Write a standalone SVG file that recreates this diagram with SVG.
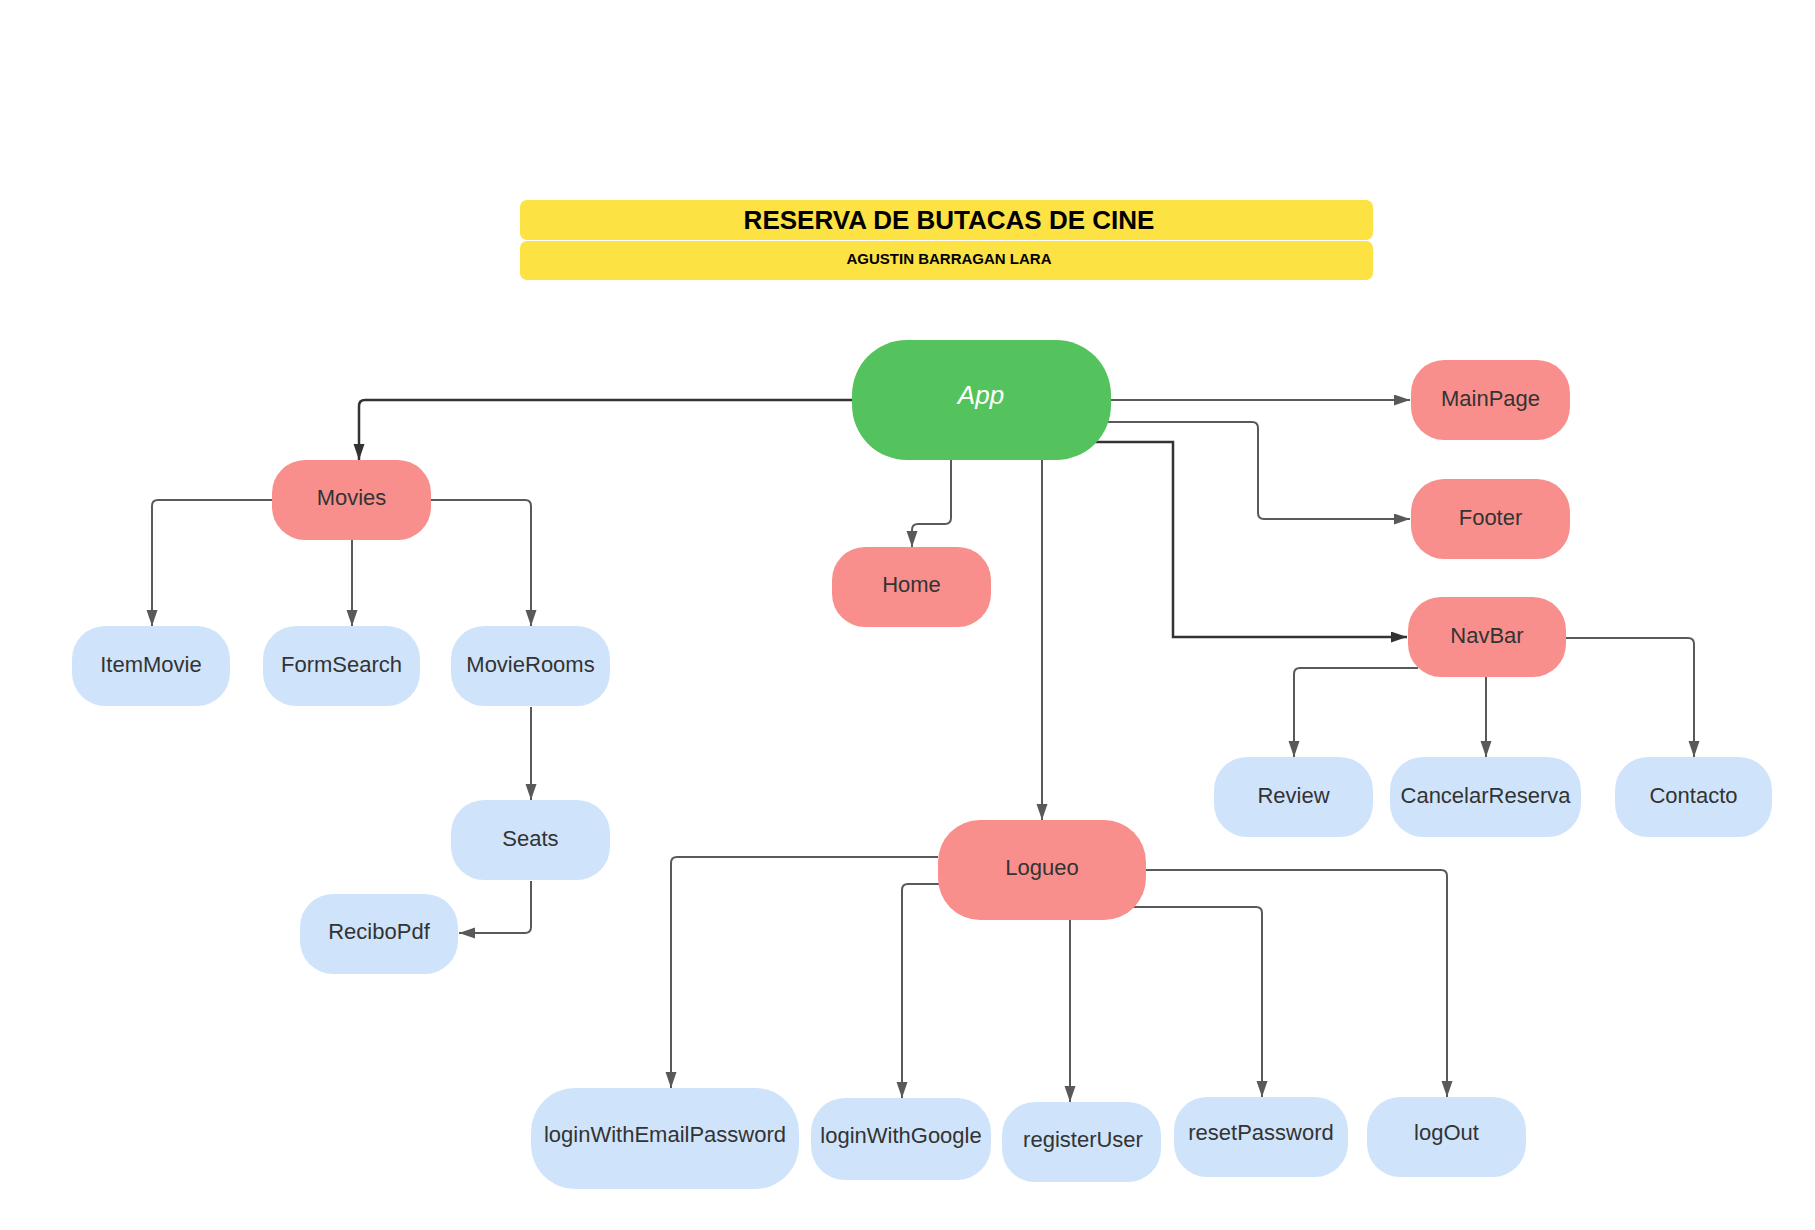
<svg xmlns="http://www.w3.org/2000/svg" width="1815" height="1230" viewBox="0 0 1815 1230">
<defs>
<style>
.red{fill:#f98f8d}
.blue{fill:#cfe4fb}
.lbl{font-family:"Liberation Sans",Arial,sans-serif;font-size:22px;fill:#333333;text-anchor:middle}
.c{fill:none;stroke:#595959;stroke-width:2}
.cd{fill:none;stroke:#333333;stroke-width:2.5}
</style>
<marker id="ah" markerUnits="userSpaceOnUse" markerWidth="17" markerHeight="12" refX="16" refY="5.5" orient="auto">
<path d="M0,0 L16,5.5 L0,11 z" fill="#595959"/>
</marker>
<marker id="ahd" markerUnits="userSpaceOnUse" markerWidth="17" markerHeight="12" refX="16" refY="5.5" orient="auto">
<path d="M0,0 L16,5.5 L0,11 z" fill="#333333"/>
</marker>
</defs>
<rect width="1815" height="1230" fill="#ffffff"/>
<g id="title">
<rect x="520" y="200" width="853" height="40" rx="7" fill="#fde244"/>
<rect x="520" y="241" width="853" height="39" rx="7" fill="#fde244"/>
<text x="949" y="229" font-family="Liberation Sans,Arial,sans-serif" font-size="26" font-weight="bold" fill="#000" text-anchor="middle">RESERVA DE BUTACAS DE CINE</text>
<text x="949" y="264" font-family="Liberation Sans,Arial,sans-serif" font-size="15" font-weight="bold" fill="#000" text-anchor="middle">AGUSTIN BARRAGAN LARA</text>
</g>
<g id="connectors">
<path class="cd" marker-end="url(#ahd)" d="M852,400 L365,400 Q359,400 359,406 L359,460"/>
<path class="c" marker-end="url(#ah)" d="M1111,400 L1410,400"/>
<path class="c" marker-end="url(#ah)" d="M1105,422 L1252,422 Q1258,422 1258,428 L1258,513 Q1258,519 1264,519 L1410,519"/>
<path class="cd" marker-end="url(#ahd)" d="M1095,442 L1173,442 L1173,637 L1407,637"/>
<path class="c" marker-end="url(#ah)" d="M951,460 L951,518 Q951,524 945,524 L918,524 Q912,524 912,530 L912,547"/>
<path class="c" marker-end="url(#ah)" d="M1042,460 L1042,820"/>
<path class="c" marker-end="url(#ah)" d="M272,500 L158,500 Q152,500 152,506 L152,626"/>
<path class="c" marker-end="url(#ah)" d="M352,540 L352,626"/>
<path class="c" marker-end="url(#ah)" d="M431,500 L525,500 Q531,500 531,506 L531,626"/>
<path class="c" marker-end="url(#ah)" d="M531,707 L531,800"/>
<path class="c" marker-end="url(#ah)" d="M531,881 L531,927 Q531,933 525,933 L459,933"/>
<path class="c" marker-end="url(#ah)" d="M1418,668 L1300,668 Q1294,668 1294,674 L1294,757"/>
<path class="c" marker-end="url(#ah)" d="M1486,677 L1486,757"/>
<path class="c" marker-end="url(#ah)" d="M1566,638 L1688,638 Q1694,638 1694,644 L1694,757"/>
<path class="c" marker-end="url(#ah)" d="M938,857 L677,857 Q671,857 671,863 L671,1088"/>
<path class="c" marker-end="url(#ah)" d="M940,884 L908,884 Q902,884 902,890 L902,1098"/>
<path class="c" marker-end="url(#ah)" d="M1070,920 L1070,1102"/>
<path class="c" marker-end="url(#ah)" d="M1132,907 L1256,907 Q1262,907 1262,913 L1262,1097"/>
<path class="c" marker-end="url(#ah)" d="M1146,870 L1441,870 Q1447,870 1447,876 L1447,1097"/>
</g>
<g id="app">
<rect x="852" y="340" width="259" height="120" rx="55" fill="#55c35d"/>
<text x="981" y="404" font-family="Liberation Sans,Arial,sans-serif" font-size="26" font-style="italic" fill="#ffffff" text-anchor="middle">App</text>
</g>
<g id="mainpage"><rect class="red" x="1411" y="360" width="159" height="80" rx="33"/><text class="lbl" x="1490.5" y="406">MainPage</text></g>
<g id="footer"><rect class="red" x="1411" y="479" width="159" height="80" rx="33"/><text class="lbl" x="1490.5" y="525">Footer</text></g>
<g id="navbar"><rect class="red" x="1408" y="597" width="158" height="80" rx="33"/><text class="lbl" x="1487" y="643">NavBar</text></g>
<g id="home"><rect class="red" x="832" y="547" width="159" height="80" rx="33"/><text class="lbl" x="911.5" y="592">Home</text></g>
<g id="movies"><rect class="red" x="272" y="460" width="159" height="80" rx="33"/><text class="lbl" x="351.5" y="505">Movies</text></g>
<g id="itemmovie"><rect class="blue" x="72" y="626" width="158" height="80" rx="33"/><text class="lbl" x="151" y="672">ItemMovie</text></g>
<g id="formsearch"><rect class="blue" x="263" y="626" width="157" height="80" rx="33"/><text class="lbl" x="341.5" y="672">FormSearch</text></g>
<g id="movierooms"><rect class="blue" x="451" y="626" width="159" height="80" rx="33"/><text class="lbl" x="530.5" y="672">MovieRooms</text></g>
<g id="seats"><rect class="blue" x="451" y="800" width="159" height="80" rx="33"/><text class="lbl" x="530.5" y="846">Seats</text></g>
<g id="recibopdf"><rect class="blue" x="300" y="894" width="158" height="80" rx="33"/><text class="lbl" x="379" y="939">ReciboPdf</text></g>
<g id="review"><rect class="blue" x="1214" y="757" width="159" height="80" rx="33"/><text class="lbl" x="1293.5" y="803">Review</text></g>
<g id="cancelarreserva"><rect class="blue" x="1390" y="757" width="191" height="80" rx="33"/><text class="lbl" x="1485.5" y="803">CancelarReserva</text></g>
<g id="contacto"><rect class="blue" x="1615" y="757" width="157" height="80" rx="33"/><text class="lbl" x="1693.5" y="803">Contacto</text></g>
<g id="logueo"><rect class="red" x="938" y="820" width="208" height="100" rx="42"/><text class="lbl" x="1042" y="875">Logueo</text></g>
<g id="loginwithemailpassword"><rect class="blue" x="531" y="1088" width="268" height="101" rx="44"/><text class="lbl" x="665" y="1142">loginWithEmailPassword</text></g>
<g id="loginwithgoogle"><rect class="blue" x="811" y="1098" width="180" height="82" rx="34"/><text class="lbl" x="901" y="1143">loginWithGoogle</text></g>
<g id="registeruser"><rect class="blue" x="1002" y="1102" width="159" height="80" rx="33"/><text class="lbl" x="1083" y="1147">registerUser</text></g>
<g id="resetpassword"><rect class="blue" x="1174" y="1097" width="174" height="80" rx="33"/><text class="lbl" x="1261" y="1140">resetPassword</text></g>
<g id="logout"><rect class="blue" x="1367" y="1097" width="159" height="80" rx="33"/><text class="lbl" x="1446.5" y="1140">logOut</text></g>
</svg>
